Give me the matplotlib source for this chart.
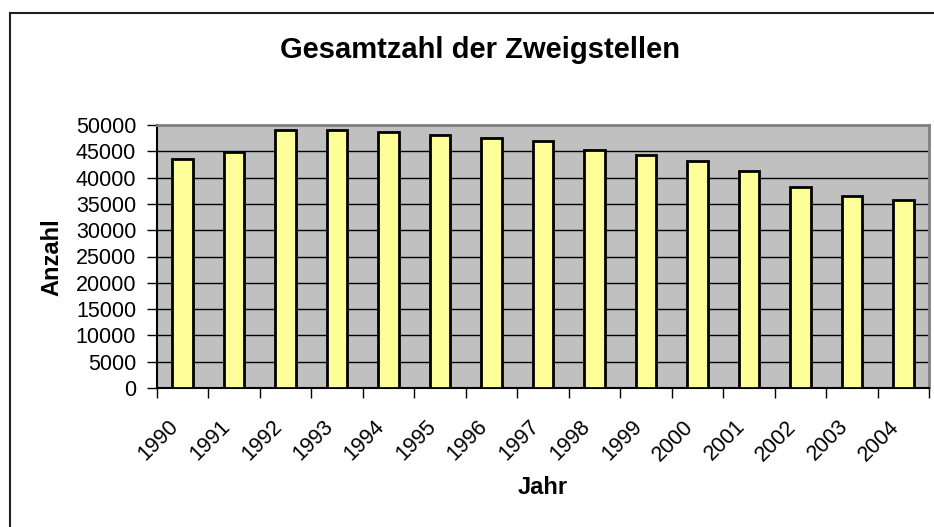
import numpy as np
import matplotlib.pyplot as plt
import matplotlib.transforms as mtransforms
from matplotlib.patches import Rectangle

# Gesamtzahl der Zweigstellen
years = ['1990', '1991', '1992', '1993', '1994', '1995', '1996', '1997',
         '1998', '1999', '2000', '2001', '2002', '2003', '2004']
branches = [43500, 44800, 49100, 49000, 48600, 48100, 47600, 47000,
            45250, 44350, 43250, 41200, 38200, 36550, 35750]
y_ticks = list(range(0, 50001, 5000))

plt.rcParams['font.family'] = ['Liberation Sans', 'DejaVu Sans']

W, H = 934, 527
fig = plt.figure(figsize=(W / 100, H / 100), dpi=100)

# outer chart frame (cut off at right and bottom edge)
fig.patches.append(Rectangle((10 / W, -0.1), 1.2, 1.1 - 13 / H, transform=fig.transFigure,
                             fill=False, edgecolor='#202020', linewidth=1.5))

ax = fig.add_axes([157 / W, 1 - 388 / H, (929 - 157) / W, (388 - 125) / H])
ax.set_facecolor('#C0C0C0')

x = np.arange(len(years))
ax.bar(x, branches, width=0.4, color='#FFFF99', edgecolor='black', linewidth=2, zorder=3)

ax.set_xlim(-0.5, len(years) - 0.5)
ax.set_ylim(0, 50000)
ax.set_yticks(y_ticks)
ax.set_yticklabels([str(v) for v in y_ticks], fontsize=15.5)
ax.yaxis.grid(True, color='black', linewidth=1)
ax.set_axisbelow(True)
ax.tick_params(axis='y', direction='out', length=7, width=1, pad=8)

# category labels at centres, tick marks at boundaries
ax.set_xticks(x)
ax.set_xticklabels(years, fontsize=15.5, rotation=45, ha='right', va='center',
                   rotation_mode='anchor')
ax.tick_params(axis='x', which='major', length=0, pad=22)
shift = mtransforms.ScaledTranslation(-7 / 100, -5 / 100, fig.dpi_scale_trans)
for lbl in ax.get_xticklabels():
    lbl.set_transform(lbl.get_transform() + shift)
ax.set_xticks(np.arange(len(years) + 1) - 0.5, minor=True)
ax.tick_params(axis='x', which='minor', direction='out', length=7, width=1)

for side in ['left', 'bottom']:
    ax.spines[side].set_color('black')
    ax.spines[side].set_linewidth(1.5)
for side in ['top', 'right']:
    ax.spines[side].set_color('#808080')
    ax.spines[side].set_linewidth(2)

fig.text(480 / W, 1 - 58 / H, 'Gesamtzahl der Zweigstellen', fontsize=21,
         fontweight='bold', ha='center', va='baseline')
fig.text(52 / W, 1 - 257 / H, 'Anzahl', fontsize=17, fontweight='bold',
         rotation=90, ha='center', va='center')
fig.text(543 / W, 1 - 488 / H, 'Jahr', fontsize=17, fontweight='bold',
         ha='center', va='center')

plt.savefig('out.png', dpi=100)
